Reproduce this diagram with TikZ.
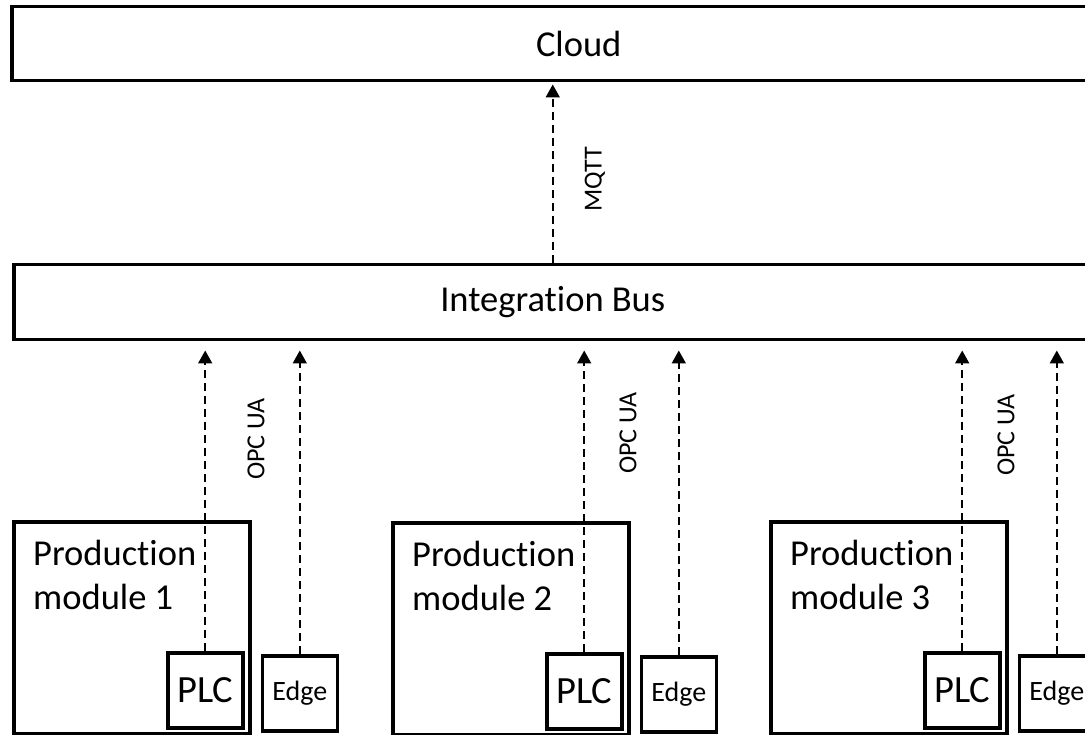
\documentclass[tikz,border=0pt]{standalone}
\usepackage{fontspec}
\setmainfont{Carlito}[Ligatures=NoCommon]
\usetikzlibrary{arrows.meta,positioning,calc}

\begin{document}
\begin{tikzpicture}[
  x=1pt, y=-1pt,
  bar/.style={rectangle, draw=black, line width=3.5pt, anchor=north west,
              inner sep=0pt, font=\fontsize{36.5}{42}\selectfont},
  modbox/.style={rectangle, draw=black, line width=3.5pt, anchor=north west,
                 minimum width=236pt, minimum height=212pt},
  plcbox/.style={rectangle, draw=black, line width=3.6pt, minimum size=75pt,
                 inner sep=0pt, anchor=south east, font=\fontsize{38.5}{44}\selectfont},
  edgebox/.style={rectangle, draw=black, line width=3.6pt, minimum size=75pt,
                  inner sep=0pt, font=\fontsize{28}{32}\selectfont},
  modtext/.style={align=left, anchor=north west, inner sep=0pt,
                  font=\fontsize{36.5}{44}\selectfont},
  proto/.style={rotate=90, inner sep=0pt, font=\fontsize{26}{30}\selectfont},
  flow/.style={-{Triangle[length=13pt,width=14pt]}, line width=1.8pt,
               dash pattern=on 8pt off 5pt}
]

\useasboundingbox (0,0) rectangle (1085,735);
\clip (0,0) rectangle (1085,735);

% Cloud and integration bus
\node[bar, minimum width=1134pt, minimum height=74pt] (cloud) at (10,5) {Cloud};
\node[bar, minimum width=1078pt, minimum height=75pt] (bus) at (12,263) {Integration Bus};

% MQTT link
\coordinate (mqttend) at ($(bus.north |- cloud.south)+(0,2)$);
\draw[flow] (bus.north) -- (mqttend);
\node[proto] (mqtt) at (595,179) {MQTT};

% Production module 1
\node[modbox] (m1) at (12,520) {};
\node[modtext] (m1text) at ([shift={(21,20)}]m1.north west) {Production\\module 1};
\node[plcbox] (plc1) at ([shift={(-7,-6)}]m1.south east) {PLC};
\node[edgebox, right=16pt of plc1, yshift=-3pt] (edge1) {Edge};

% Production module 2
\node[modbox] (m2) at (391,521) {};
\node[modtext] (m2text) at ([shift={(21,20)}]m2.north west) {Production\\module 2};
\node[plcbox] (plc2) at ([shift={(-7,-6)}]m2.south east) {PLC};
\node[edgebox, right=16pt of plc2, yshift=-3pt] (edge2) {Edge};

% Production module 3
\node[modbox] (m3) at (769,520) {};
\node[modtext] (m3text) at ([shift={(21,20)}]m3.north west) {Production\\module 3};
\node[plcbox] (plc3) at ([shift={(-7,-6)}]m3.south east) {PLC};
\node[edgebox, right=16pt of plc3, yshift=-3pt] (edge3) {Edge};

% Links up to the bus
\coordinate (p1end) at ($(plc1.north |- bus.south)+(0,9)$);
\coordinate (e1end) at ($(edge1.north |- bus.south)+(0,9)$);
\coordinate (p2end) at ($(plc2.north |- bus.south)+(0,9)$);
\coordinate (e2end) at ($(edge2.north |- bus.south)+(0,9)$);
\coordinate (p3end) at ($(plc3.north |- bus.south)+(0,9)$);
\coordinate (e3end) at ($(edge3.north |- bus.south)+(0,9)$);
\draw[flow] (plc1.north) -- (p1end);
\draw[flow] (edge1.north) -- (e1end);
\draw[flow] (plc2.north) -- (p2end);
\draw[flow] (edge2.north) -- (e2end);
\draw[flow] (plc3.north) -- (p3end);
\draw[flow] (edge3.north) -- (e3end);

% OPC UA labels
\node[proto] (opc1) at (256,439) {OPC UA};
\node[proto] (opc2) at (628,433) {OPC UA};
\node[proto] (opc3) at (1006,435) {OPC UA};

\end{tikzpicture}
\end{document}
